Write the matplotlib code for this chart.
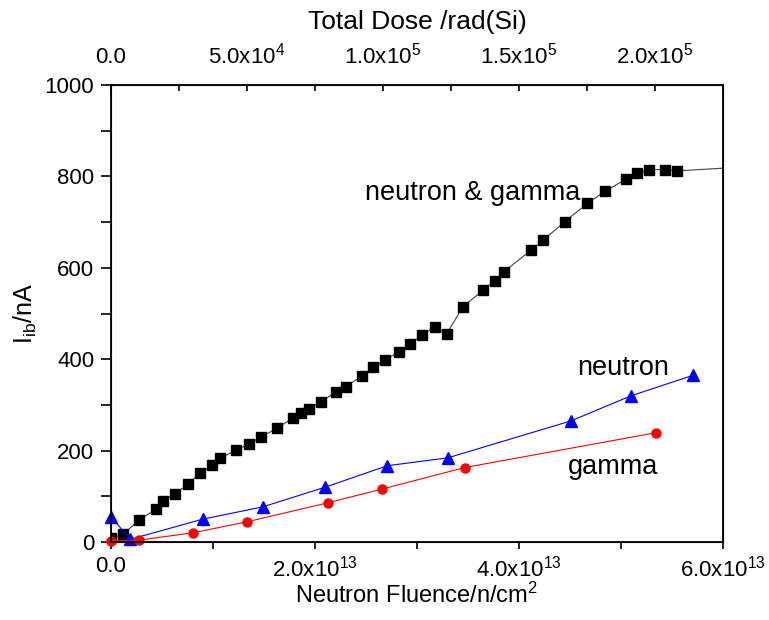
import matplotlib
matplotlib.use("Agg")
import matplotlib.pyplot as plt
from matplotlib.ticker import MultipleLocator

plt.rcParams['font.family'] = ['Liberation Sans', 'DejaVu Sans']
plt.rcParams['mathtext.default'] = 'regular'

# neutron & gamma (black squares)
ng_fluence = [0.0, 1.2e12, 2.75e12, 4.4e12, 5.1e12, 6.3e12, 7.5e12, 8.7e12, 9.9e12, 10.7e12,
              12.25e12, 13.5e12, 14.7e12, 16.3e12, 17.8e12, 18.6e12, 19.4e12, 20.6e12,
              22.1e12, 23.0e12, 24.6e12, 25.7e12, 26.9e12, 28.2e12, 29.3e12, 30.5e12,
              31.8e12, 32.9e12, 34.5e12, 36.5e12, 37.6e12, 38.5e12, 41.2e12, 42.4e12,
              44.5e12, 46.7e12, 48.4e12, 50.5e12, 51.6e12, 52.7e12, 54.3e12, 55.5e12, 63.0e12]
ng_current = [8, 17, 48, 72, 90, 106, 126, 150, 168, 183,
              201, 214, 230, 249, 271, 282, 291, 307,
              329, 340, 363, 382, 398, 416, 433, 453,
              471, 455, 515, 551, 572, 591, 639, 661,
              701, 741, 767, 794, 808, 815, 815, 812, 822]

# neutron only (blue triangles)
n_fluence = [0.0, 1.9e12, 9.0e12, 14.9e12, 21.0e12, 27.1e12, 33.0e12, 45.1e12, 51.0e12, 57.1e12]
n_current = [55, 6, 50, 77, 120, 167, 184, 265, 320, 365]

# gamma only (red circles)
g_fluence = [0.0, 2.7e12, 8.0e12, 13.3e12, 21.3e12, 26.6e12, 34.7e12, 53.4e12]
g_current = [3, 4, 20, 44, 86, 116, 163, 239]

bottom_ticks = [0.0, 2.0e13, 4.0e13, 6.0e13]
bottom_labels = ['0.0', '2.0x10$^{13}$', '4.0x10$^{13}$', '6.0x10$^{13}$']
top_ticks = [0.0, 5.0e4, 1.0e5, 1.5e5, 2.0e5]
top_labels = ['0.0', '5.0x10$^4$', '1.0x10$^5$', '1.5x10$^5$', '2.0x10$^5$']
top_max = 2.25e5

fig = plt.figure(figsize=(7.69, 6.2), dpi=100)
ax = fig.add_axes([111/769, 1-542/620, 612/769, 457/620])

ax.plot(ng_fluence, ng_current, color='#444444', lw=0.8, marker='s', ms=7,
        mfc='black', mec='black', clip_on=True)
ax.plot(n_fluence, n_current, color='blue', lw=0.8, marker='^', ms=8.5,
        mfc='blue', mec='blue', clip_on=False)
ax.plot(g_fluence, g_current, color='red', lw=0.8, marker='o', ms=6.5,
        mfc='red', mec='red', clip_on=False)

ax.set_xlim(0, 6.0e13)
ax.set_ylim(0, 1000)
ax.set_xticks(bottom_ticks)
ax.set_xticklabels(bottom_labels)
ax.xaxis.set_minor_locator(MultipleLocator(1.0e13))
ax.yaxis.set_major_locator(MultipleLocator(200))
ax.yaxis.set_minor_locator(MultipleLocator(100))
ax.tick_params(axis='y', which='both', direction='out', length=7, width=1.2,
               labelsize=16, right=False, pad=5)
ax.tick_params(axis='x', which='both', direction='out', length=5, width=1.2,
               labelsize=16, top=False, pad=5)
for s in ax.spines.values():
    s.set_linewidth(1.3)

ax.set_xlabel('Neutron Fluence/n/cm$^2$', fontsize=17, labelpad=1)
ax.set_ylabel('I$_{ib}$/nA', fontsize=18, labelpad=4)

ax2 = ax.twiny()
ax2.set_xlim(0, top_max)
ax2.set_xticks(top_ticks)
ax2.set_xticklabels(top_labels)
ax2.xaxis.set_minor_locator(MultipleLocator(2.5e4))
ax2.tick_params(axis='x', which='both', direction='in', length=4, width=1.2,
                labelsize=16, pad=12)
ax2.set_xlabel('Total Dose /rad(Si)', fontsize=19, labelpad=10)

ax.text(35.5e12, 764, 'neutron & gamma', fontsize=19.5, ha='center', va='center')
ax.text(50.2e12, 381, 'neutron', fontsize=19.5, ha='center', va='center')
ax.text(49.2e12, 164, 'gamma', fontsize=19.5, ha='center', va='center')

fig.savefig('out.png', dpi=100)
